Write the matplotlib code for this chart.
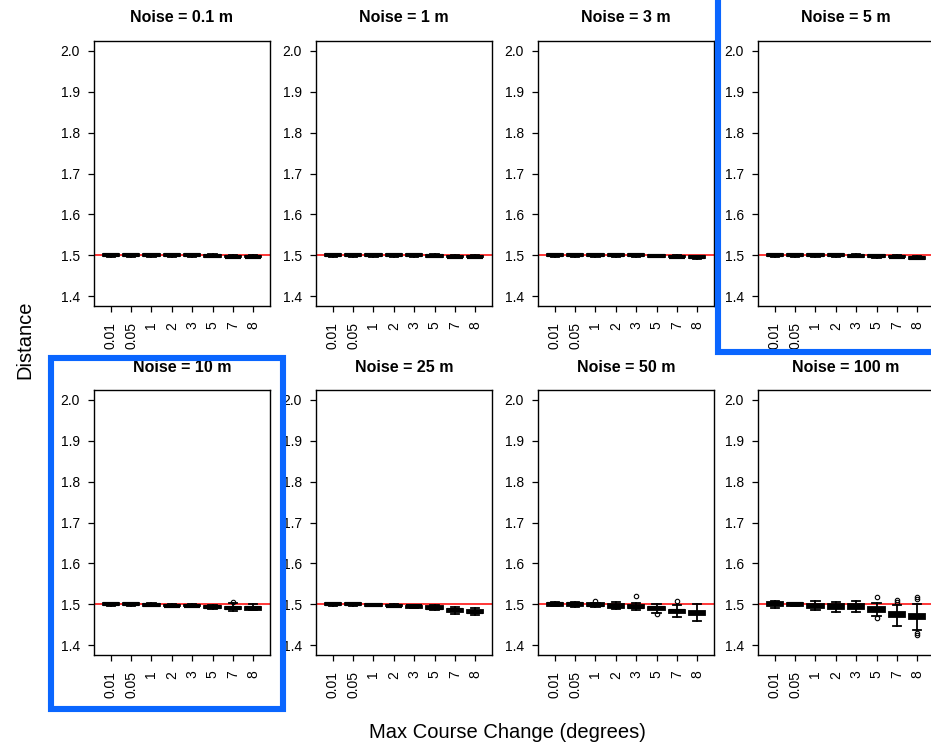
import matplotlib
matplotlib.use('Agg')
import matplotlib.pyplot as plt
from matplotlib.patches import Rectangle

plt.rcParams['font.family'] = ['Liberation Sans', 'DejaVu Sans']

noise_levels = ['0.1', '1', '3', '5', '10', '25', '50', '100']
course_change = ['0.01', '0.05', '1', '2', '3', '5', '7', '8']
true_distance = 1.5

# per-panel box statistics, one row per noise level, one column per course change
medians = [
    [1.500, 1.500, 1.500, 1.500, 1.500, 1.499, 1.497, 1.497],
    [1.500, 1.500, 1.500, 1.500, 1.500, 1.499, 1.497, 1.497],
    [1.500, 1.500, 1.500, 1.500, 1.500, 1.498, 1.497, 1.496],
    [1.500, 1.500, 1.500, 1.500, 1.499, 1.498, 1.497, 1.494],
    [1.500, 1.500, 1.499, 1.497, 1.497, 1.494, 1.491, 1.490],
    [1.500, 1.500, 1.498, 1.497, 1.495, 1.492, 1.485, 1.482],
    [1.500, 1.500, 1.499, 1.496, 1.494, 1.490, 1.483, 1.479],
    [1.500, 1.500, 1.497, 1.494, 1.494, 1.487, 1.476, 1.469],
]
q1 = [
    [1.498, 1.498, 1.498, 1.498, 1.498, 1.497, 1.495, 1.495],
    [1.498, 1.498, 1.498, 1.498, 1.498, 1.497, 1.495, 1.495],
    [1.498, 1.498, 1.498, 1.498, 1.498, 1.496, 1.495, 1.494],
    [1.498, 1.498, 1.498, 1.498, 1.497, 1.496, 1.495, 1.492],
    [1.498, 1.498, 1.497, 1.495, 1.495, 1.491, 1.488, 1.487],
    [1.498, 1.498, 1.496, 1.495, 1.492, 1.489, 1.481, 1.479],
    [1.497, 1.497, 1.496, 1.492, 1.490, 1.486, 1.479, 1.474],
    [1.495, 1.497, 1.490, 1.489, 1.488, 1.481, 1.469, 1.463],
]
q3 = [
    [1.502, 1.502, 1.502, 1.502, 1.502, 1.501, 1.499, 1.499],
    [1.502, 1.502, 1.502, 1.502, 1.502, 1.501, 1.499, 1.499],
    [1.502, 1.502, 1.502, 1.502, 1.502, 1.500, 1.499, 1.498],
    [1.502, 1.502, 1.502, 1.502, 1.501, 1.500, 1.499, 1.496],
    [1.502, 1.502, 1.501, 1.499, 1.499, 1.497, 1.494, 1.493],
    [1.502, 1.502, 1.500, 1.499, 1.497, 1.495, 1.488, 1.485],
    [1.503, 1.503, 1.502, 1.500, 1.498, 1.493, 1.487, 1.484],
    [1.505, 1.503, 1.501, 1.500, 1.500, 1.493, 1.482, 1.476],
]
whisker_lo = [
    [1.497, 1.497, 1.497, 1.497, 1.497, 1.495, 1.494, 1.494],
    [1.497, 1.497, 1.497, 1.497, 1.497, 1.495, 1.494, 1.494],
    [1.497, 1.497, 1.497, 1.497, 1.497, 1.495, 1.493, 1.492],
    [1.497, 1.497, 1.497, 1.497, 1.496, 1.494, 1.493, 1.490],
    [1.497, 1.497, 1.495, 1.494, 1.494, 1.489, 1.484, 1.485],
    [1.497, 1.497, 1.495, 1.493, 1.490, 1.485, 1.477, 1.473],
    [1.495, 1.494, 1.494, 1.489, 1.485, 1.479, 1.468, 1.458],
    [1.492, 1.495, 1.486, 1.482, 1.481, 1.471, 1.447, 1.436],
]
whisker_hi = [
    [1.503, 1.503, 1.503, 1.503, 1.503, 1.502, 1.500, 1.500],
    [1.503, 1.503, 1.503, 1.503, 1.503, 1.502, 1.500, 1.500],
    [1.503, 1.503, 1.503, 1.503, 1.503, 1.501, 1.500, 1.499],
    [1.503, 1.503, 1.503, 1.503, 1.502, 1.501, 1.500, 1.498],
    [1.503, 1.503, 1.502, 1.501, 1.501, 1.499, 1.502, 1.500],
    [1.503, 1.503, 1.501, 1.500, 1.499, 1.498, 1.494, 1.492],
    [1.505, 1.505, 1.504, 1.505, 1.504, 1.500, 1.498, 1.500],
    [1.508, 1.504, 1.508, 1.506, 1.507, 1.503, 1.498, 1.500],
]
# outliers keyed by (panel, box)
outliers = {
    (4, 6): [1.505],
    (6, 2): [1.508],
    (6, 4): [1.520],
    (6, 5): [1.476],
    (6, 6): [1.507],
    (7, 5): [1.517, 1.466],
    (7, 6): [1.511, 1.506],
    (7, 7): [1.518, 1.512, 1.430, 1.425],
}

W, H = 931, 744
fig = plt.figure(figsize=(W / 100, H / 100), dpi=100)

col_left = [94, 316, 538, 758]
row_top = [41, 390]
ax_w, ax_h = 176, 265

for i, noise in enumerate(noise_levels):
    r, c = divmod(i, 4)
    ax = fig.add_axes([col_left[c] / W, 1 - (row_top[r] + ax_h) / H, ax_w / W, ax_h / H])

    stats = []
    for j in range(len(course_change)):
        stats.append(dict(med=medians[i][j], q1=q1[i][j], q3=q3[i][j],
                          whislo=whisker_lo[i][j], whishi=whisker_hi[i][j],
                          fliers=outliers.get((i, j), [])))

    ax.axhline(true_distance, color='red', lw=1.1, zorder=1)
    ax.bxp(stats, positions=range(1, len(course_change) + 1), widths=0.8,
           capwidths=0.4, patch_artist=True, manage_ticks=False,
           boxprops=dict(facecolor='black', edgecolor='black', linewidth=1.3),
           medianprops=dict(color='black', linewidth=3.0),
           whiskerprops=dict(color='black', linewidth=1.3),
           capprops=dict(color='black', linewidth=1.3),
           flierprops=dict(marker='o', markersize=3.2, markerfacecolor='none',
                           markeredgecolor='black', markeredgewidth=0.8))

    ax.set_xlim(0.18, 8.82)
    ax.set_ylim(1.376, 2.024)
    ax.set_xticks(range(1, len(course_change) + 1))
    ax.set_xticklabels(course_change, rotation=90)
    ax.set_yticks([1.4, 1.5, 1.6, 1.7, 1.8, 1.9, 2.0])
    ax.set_yticklabels(['1.4', '1.5', '1.6', '1.7', '1.8', '1.9', '2.0'])
    ax.tick_params(axis='both', direction='out', length=4.3, width=0.9,
                   labelsize=10, color='black')
    ax.tick_params(axis='y', pad=6)
    ax.tick_params(axis='x', pad=7)
    for s in ax.spines.values():
        s.set_linewidth(1.0)

    ax.text(0.5, 1 + 23 / ax_h, f'Noise = {noise} m', transform=ax.transAxes,
            ha='center', va='center', fontsize=11.5, fontweight='bold')

fig.text(25 / W, 1 - 340 / H, 'Distance', rotation=90, ha='center', va='center',
         fontsize=14.5)
fig.text(507 / W, 1 - 733 / H, 'Max Course Change (degrees)', ha='center',
         va='center', fontsize=14.5)

# highlight frames drawn in pixel coordinates over the panels
overlay = fig.add_axes([0, 0, 1, 1], zorder=10)
overlay.set_xlim(0, W)
overlay.set_ylim(H, 0)
overlay.axis('off')
overlay.patch.set_alpha(0)
blue = '#0a66ff'
overlay.add_patch(Rectangle((718, -20), 260, 372, fill=False, edgecolor=blue,
                            linewidth=4.4, clip_on=False))
overlay.add_patch(Rectangle((51, 358), 232, 351, fill=False, edgecolor=blue,
                            linewidth=4.4, clip_on=False))

fig.savefig('out.png', dpi=100)
